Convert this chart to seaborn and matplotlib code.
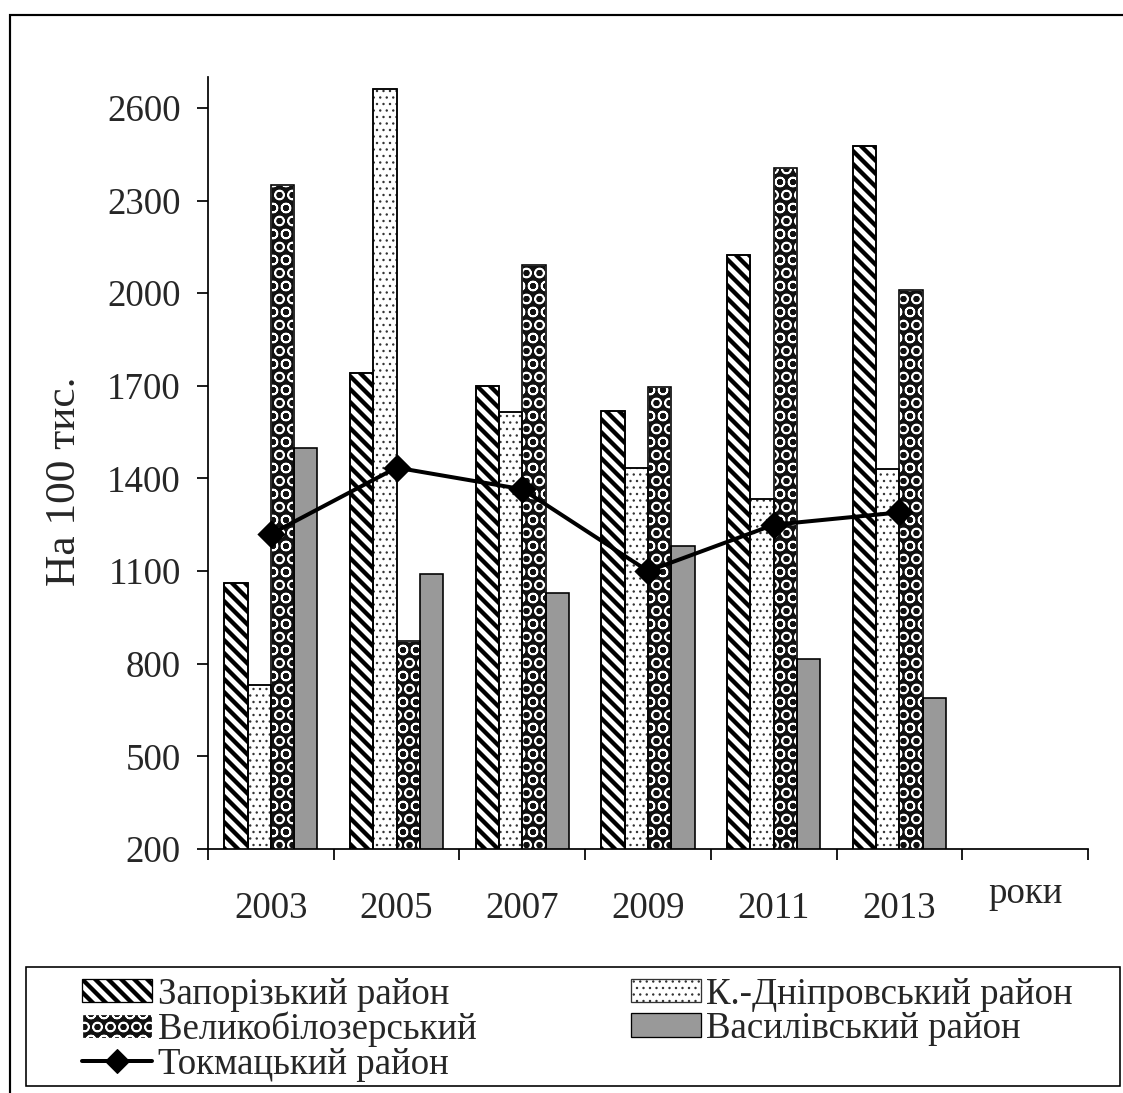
import numpy as np
import pandas as pd
import matplotlib
matplotlib.use("Agg")
import matplotlib.pyplot as plt
import matplotlib.patches as mpatches
from matplotlib.lines import Line2D
import matplotlib.transforms as mtransforms
import seaborn as sns

# data (per 100 thousand)
years = ["2003", "2005", "2007", "2009", "2011", "2013"]
order = years + ["роки"]
districts = ["Запорізький район", "К.-Дніпровський район",
             "Великобілозерський", "Василівський район"]
zaporizkyi = [1060, 1740, 1700, 1620, 2125, 2475]
k_dniprovskyi = [730, 2660, 1615, 1435, 1335, 1430]
velykobilozerskyi = [2350, 875, 2090, 1695, 2405, 2010]
vasylivskyi = [1500, 1090, 1030, 1180, 815, 690]
tokmak_label = "Токмацький район"
tokmatskyi = [1220, 1435, 1365, 1100, 1250, 1290]

y_ticks = [200, 500, 800, 1100, 1400, 1700, 2000, 2300, 2600]

W, H = 1123, 1093
DPI = 78

sns.set_theme(style="white")
plt.rcParams["font.family"] = ["Liberation Serif", "DejaVu Serif"]
plt.rcParams["hatch.linewidth"] = 1.0

df = pd.DataFrame({
    "year": years * 4,
    "district": np.repeat(districts, len(years)),
    "value": zaporizkyi + k_dniprovskyi + velykobilozerskyi + vasylivskyi,
})

fig = plt.figure(figsize=(W / DPI, H / DPI), dpi=DPI)
fig.patch.set_facecolor("white")
ax = fig.add_axes([208 / W, 1 - 849 / H, (1088 - 208) / W, (849 - 77) / H])

fills = ["white", "white", "#111111", "#999999"]
hatches = ["\\\\", "..", "O", ""]
hatch_cols = ["black", "#333333", "white", "black"]
hatch_lws = [4.0, 1.0, 1.5, 1.0]


def style_hatch(p, i):
    p.set_facecolor(fills[i])
    p.set_hatch(hatches[i])
    p.set_edgecolor(hatch_cols[i])
    if hasattr(p, "set_hatch_linewidth"):
        p.set_hatch_linewidth(hatch_lws[i])


sns.barplot(data=df, x="year", y="value", hue="district", order=order,
            hue_order=districts, width=0.74, palette=fills, saturation=1,
            edgecolor="black", linewidth=1.5, legend=False, ax=ax)

for i, cont in enumerate(ax.containers):
    for p in cont.patches:
        p.set_facecolor(fills[i])
        if hatches[i]:
            style_hatch(p, i)
            # outline on top in black
            ax.add_patch(mpatches.Rectangle(p.get_xy(), p.get_width(), p.get_height(),
                                            fill=False, edgecolor="black", linewidth=1.5,
                                            zorder=p.get_zorder() + 0.01))

sns.pointplot(x=years, y=tokmatskyi, order=order, color="black", marker="D",
              markersize=15.5, linewidth=3.7, errorbar=None, ax=ax)

ax.set_ylim(200, 2700)
ax.set_xlim(-0.5, 6.5)
ax.set_yticks(y_ticks)
ax.set_yticklabels([str(t) for t in y_ticks])
ax.set_xticks(np.arange(-0.5, 7, 1))
ax.set_xticklabels([""] * 8)
ax.set_xticks(range(6), minor=True)
ax.set_xticklabels(years, minor=True)
ax.set_xlabel("")
ax.set_ylabel("")
for s in ["top", "right"]:
    ax.spines[s].set_visible(False)
for s in ["left", "bottom"]:
    ax.spines[s].set_color("black")
    ax.spines[s].set_linewidth(1.6)
ax.tick_params(axis="y", which="major", direction="out", length=10, width=1.6,
               pad=15, labelsize=34, color="black", left=True)
ax.tick_params(axis="x", which="major", direction="out", length=10, width=1.6,
               color="black", bottom=True)
ax.tick_params(axis="x", which="minor", length=0, pad=39, labelsize=34)

trans = mtransforms.blended_transform_factory(ax.transData, ax.transAxes)
ax.text(6, -0.07, "роки", transform=trans, ha="center", va="baseline", fontsize=34)

fig.text(65 / W, 1 - 481 / H, "На 100 тис.", rotation=90, ha="center", va="center",
         fontsize=40)

# legend
handles = []
for i in range(4):
    handles.append(mpatches.Patch(facecolor=fills[i], edgecolor="black", linewidth=1.2))
tok_handle = Line2D([], [], color="black", linewidth=3.7, marker="D", markersize=15.5)
leg_handles = [handles[0], handles[2], tok_handle, handles[1], handles[3]]
leg_labels = [districts[0], districts[2], tokmak_label, districts[1], districts[3]]
leg = fig.legend(leg_handles, leg_labels, loc="upper left",
                 bbox_to_anchor=(82 / W, 1 - 977 / H), ncol=2, frameon=False,
                 fontsize=34, handlelength=1.9, handleheight=0.6, handletextpad=0.15,
                 columnspacing=4.2, labelspacing=0.0, borderpad=0, borderaxespad=0)
# hatch the legend patches the same way as the bars
for lp, i in zip(leg.get_patches(), [0, 2, 1, 3]):
    if hatches[i]:
        style_hatch(lp, i)

fig.add_artist(mpatches.Rectangle((26 / W, 1 - 1086 / H), (1120 - 26) / W, (1086 - 967) / H,
                                  transform=fig.transFigure, fill=False,
                                  edgecolor="black", linewidth=1.5))
fig.add_artist(mpatches.Rectangle((10 / W, -0.05), 1.1, 1.05 - 15 / H,
                                  transform=fig.transFigure, fill=False,
                                  edgecolor="black", linewidth=2))

fig.savefig("out.png", dpi=DPI)
